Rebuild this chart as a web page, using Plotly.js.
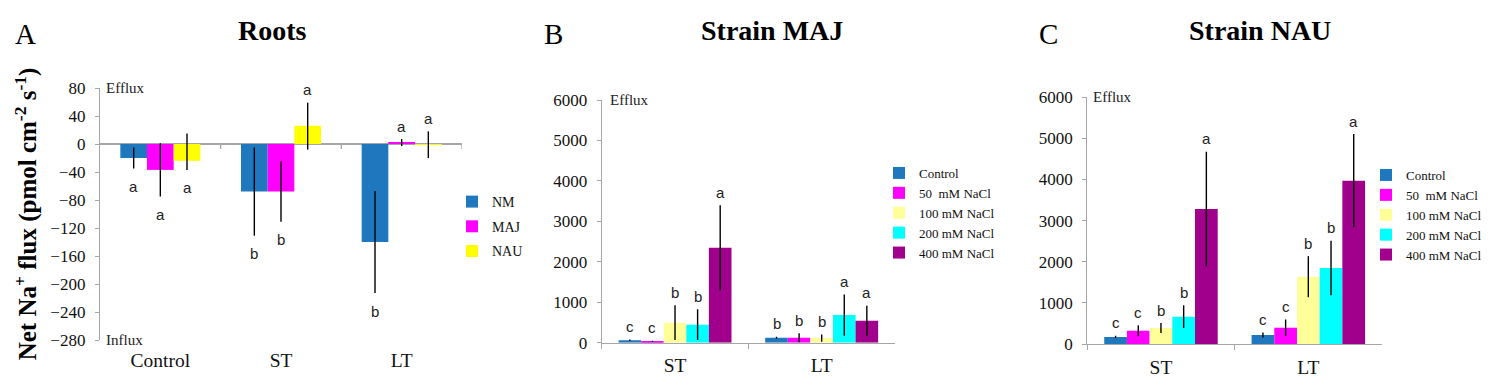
<!DOCTYPE html>
<html><head><meta charset="utf-8">
<script src="https://cdn.plot.ly/plotly-3.0.1.min.js"></script>
<style>html,body{margin:0;padding:0;background:#fff;} #chart{width:1505px;height:386px;}</style>
</head><body><div id="chart"></div>
<script>
// ---------- Panel A : Roots ----------
const catsA = ['Control', 'ST', 'LT'];
const namesA = ['NM', 'MAJ', 'NAU'];
const rootNM = [-20, -68, -140];
const rootNMerrPlus = [15, 63, 73];
const rootNMerrMinus = [15, 63, 73];
const rootMAJ = [-37, -68, 2];
const rootMAJerrPlus = [38, 43, 5];
const rootMAJerrMinus = [38, 43, 5];
const rootNAU = [-24, 26, -1];
const rootNAUerrPlus = [39, 33, 19];
const rootNAUerrMinus = [13, 34, 19];
const lettersNM = ['a', 'b', 'b'];
const lettersMAJ = ['a', 'b', 'a'];
const lettersNAU = ['a', 'a', 'a'];

// ---------- Panels B and C ----------
const catsBC = ['ST', 'LT'];
const namesBC = ['Control', '50  mM NaCl', '100 mM NaCl', '200 mM NaCl', '400 mM NaCl'];
// Strain MAJ
const majControl = [60, 124];
const maj50 = [35, 124];
const maj100 = [494, 114];
const maj200 = [445, 683];
const maj400 = [2348, 544];
const majControlErr = [20, 25];
const maj50Err = [15, 110];
const maj100Err = [430, 90];
const maj200Err = [380, 510];
const maj400Err = [1050, 370];
const majLetControl = ['c', 'b'];
const majLet50 = ['c', 'b'];
const majLet100 = ['b', 'b'];
const majLet200 = ['b', 'a'];
const majLet400 = ['a', 'a'];
// Strain NAU
const nauControl = [170, 219];
const nau50 = [324, 396];
const nau100 = [389, 1637];
const nau200 = [664, 1848];
const nau400 = [3283, 3972];
const nauControlErr = [30, 60];
const nau50Err = [135, 200];
const nau100Err = [120, 500];
const nau200Err = [276, 665];
const nau400Err = [1390, 1135];
const nauLetControl = ['c', 'c'];
const nauLet50 = ['c', 'c'];
const nauLet100 = ['b', 'b'];
const nauLet200 = ['b', 'b'];
const nauLet400 = ['a', 'a'];

const colorsA = ['#1F78BE', '#FF00FF', '#FFFF00'];
const colorsBC = ['#1F78BE', '#FF00FF', '#FFFF99', '#00FFFF', '#A0008C'];

const SERIF = 'Liberation Serif, Times New Roman, serif';
const SANS = 'Liberation Sans, Arial, sans-serif';
const W = 1505, H = 386;
const px = v => v / W;
const py = v => (H - v) / H;

const traces = [];
const annotations = [];

function addPanel(xa, ya, cats, names, vals, ePlus, eMinus, letters, colors, groupW, legendId) {
  const n = names.length;
  const w = groupW / n;
  names.forEach((name, i) => {
    const off = -groupW / 2 + i * w;
    traces.push({
      type: 'bar', name: name, x: cats, y: vals[i],
      xaxis: xa, yaxis: ya, legend: legendId, legendgroup: legendId + name,
      offset: off, width: w,
      marker: {color: colors[i], line: {width: 0}},
      error_y: {type: 'data', array: ePlus[i], arrayminus: eMinus[i], symmetric: false,
                color: '#000', thickness: 1.4, width: 0},
      hoverinfo: 'x+y+name'
    });
    vals[i].forEach((v, ci) => {
      const above = v > -2;
      annotations.push({
        xref: xa, yref: ya, x: ci + off + w / 2,
        y: above ? v + ePlus[i][ci] : v - eMinus[i][ci],
        yshift: above ? 13 : -18, yanchor: 'middle', xanchor: 'center',
        text: letters[i][ci], showarrow: false,
        font: {family: SANS, size: 15, color: '#222'}
      });
    });
  });
}

addPanel('x', 'y', catsA, namesA,
  [rootNM, rootMAJ, rootNAU],
  [rootNMerrPlus, rootMAJerrPlus, rootNAUerrPlus],
  [rootNMerrMinus, rootMAJerrMinus, rootNAUerrMinus],
  [lettersNM, lettersMAJ, lettersNAU], colorsA, 0.663, 'legend');

const majErr = [majControlErr, maj50Err, maj100Err, maj200Err, maj400Err];
addPanel('x2', 'y2', catsBC, namesBC,
  [majControl, maj50, maj100, maj200, maj400], majErr, majErr,
  [majLetControl, majLet50, majLet100, majLet200, majLet400], colorsBC, 0.77, 'legend2');

const nauErr = [nauControlErr, nau50Err, nau100Err, nau200Err, nau400Err];
addPanel('x3', 'y3', catsBC, namesBC,
  [nauControl, nau50, nau100, nau200, nau400], nauErr, nauErr,
  [nauLetControl, nauLet50, nauLet100, nauLet200, nauLet400], colorsBC, 0.77, 'legend3');

// Titles, panel letters, Efflux/Influx labels
[['<b>Roots</b>', 272], ['<b>Strain MAJ</b>', 772], ['<b>Strain NAU</b>', 1260]].forEach(([t, x]) => {
  annotations.push({xref: 'paper', yref: 'paper', x: px(x), y: py(31), xanchor: 'center', yanchor: 'middle',
    text: t, showarrow: false, font: {family: SERIF, size: 28, color: '#000'}});
});
[['A', 25], ['B', 553], ['C', 1048]].forEach(([t, x]) => {
  annotations.push({xref: 'paper', yref: 'paper', x: px(x), y: py(34), xanchor: 'center', yanchor: 'middle',
    text: t, showarrow: false, font: {family: SERIF, size: 29, color: '#000'}});
});
const smallSerif = {family: SERIF, size: 15, color: '#222'};
annotations.push({xref: 'x domain', yref: 'y', x: 0, y: 80, xanchor: 'left', yanchor: 'middle', xshift: 4, text: 'Efflux', showarrow: false, font: smallSerif});
annotations.push({xref: 'x domain', yref: 'y', x: 0, y: -280, xanchor: 'left', yanchor: 'middle', xshift: 4, text: 'Influx', showarrow: false, font: smallSerif});
annotations.push({xref: 'x2 domain', yref: 'y2', x: 0, y: 6000, xanchor: 'left', yanchor: 'middle', xshift: 6, text: 'Efflux', showarrow: false, font: smallSerif});
annotations.push({xref: 'x3 domain', yref: 'y3', x: 0, y: 6000, xanchor: 'left', yanchor: 'middle', xshift: 4, text: 'Efflux', showarrow: false, font: smallSerif});

// tick marks on the zero line of panel A at category boundaries
const shapes = [0.5, 1.5, 2.5].map(b => ({
  type: 'line', xref: 'x', yref: 'y', x0: b, x1: b, ysizemode: 'pixel', yanchor: 0, y0: 0, y1: -5,
  line: {color: '#A6A6A6', width: 1.3}
}));

const AXC = '#A6A6A6';
const tickFontY = {family: SERIF, size: 17, color: '#111'};
const tickFontX = {family: SERIF, size: 19.5, color: '#111'};
const yBase = {showgrid: false, showline: true, linecolor: AXC, linewidth: 1.3, ticks: 'outside',
  ticklen: 4, tickcolor: AXC, tickwidth: 1.2, tickfont: tickFontY, ticklabelstandoff: 6, fixedrange: true};
const xBase = {type: 'category', showgrid: false, zeroline: false, tickfont: tickFontX, fixedrange: true};

const legendBase = {xanchor: 'left', yanchor: 'top', bgcolor: 'rgba(0,0,0,0)', borderwidth: 0,
  traceorder: 'grouped'};

const layout = {
  width: W, height: H, margin: {l: 0, r: 0, t: 0, b: 0},
  paper_bgcolor: '#fff', plot_bgcolor: 'rgba(0,0,0,0)',
  barmode: 'group', showlegend: true,
  xaxis: Object.assign({}, xBase, {domain: [px(100), px(462)], anchor: 'y', range: [-0.5, 2.5],
    showline: false, ticks: '', ticklabelstandoff: 6}),
  yaxis: Object.assign({}, yBase, {domain: [py(340), py(88)], anchor: 'x', range: [-280, 80],
    tick0: 0, dtick: 40, zeroline: true, zerolinecolor: AXC, zerolinewidth: 1.5,
    title: {text: 'Net Na<sup>+</sup> flux (pmol cm<sup>-2</sup> s<sup>-1</sup>)',
      font: {family: SERIF, size: 25, color: '#000', weight: 'bold'}, standoff: 6}}),
  xaxis2: Object.assign({}, xBase, {domain: [px(601.7), px(895)], anchor: 'y2', range: [-0.5, 1.5],
    showline: true, linecolor: AXC, linewidth: 1.3, ticks: 'outside', tickson: 'boundaries',
    ticklen: 5, tickcolor: AXC, ticklabelstandoff: 5}),
  yaxis2: Object.assign({}, yBase, {domain: [py(342.7), py(100)], anchor: 'x2', range: [0, 6000],
    dtick: 1000, zeroline: false}),
  xaxis3: Object.assign({}, xBase, {domain: [px(1087.3), px(1382)], anchor: 'y3', range: [-0.5, 1.5],
    showline: true, linecolor: AXC, linewidth: 1.3, ticks: 'outside', tickson: 'boundaries',
    ticklen: 5, tickcolor: AXC, ticklabelstandoff: 5}),
  yaxis3: Object.assign({}, yBase, {domain: [py(344), py(97.3)], anchor: 'x3', range: [0, 6000],
    dtick: 1000, zeroline: false}),
  legend: Object.assign({}, legendBase, {x: px(452), y: py(186), tracegroupgap: 3.5,
    font: {family: SERIF, size: 14, color: '#111'}}),
  legend2: Object.assign({}, legendBase, {x: px(879), y: py(158), tracegroupgap: 0,
    font: {family: SERIF, size: 13, color: '#111'}}),
  legend3: Object.assign({}, legendBase, {x: px(1366), y: py(160), tracegroupgap: 0,
    font: {family: SERIF, size: 13, color: '#111'}}),
  annotations: annotations,
  shapes: shapes
};

Plotly.newPlot('chart', traces, layout, {displayModeBar: false, staticPlot: false});
</script>
</body></html>
